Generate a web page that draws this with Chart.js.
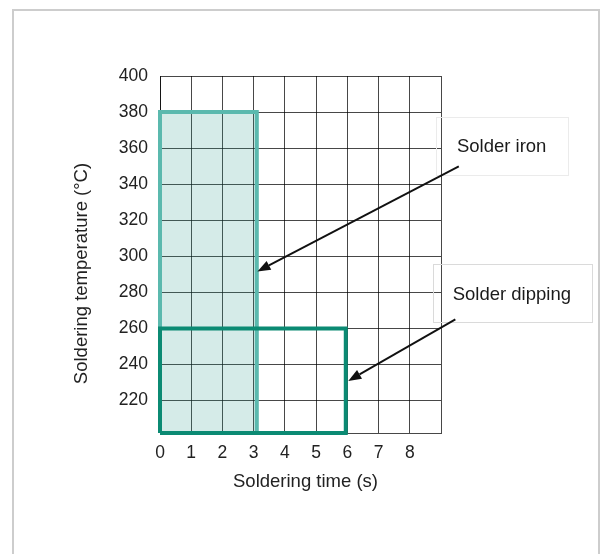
<!DOCTYPE html>
<html>
<head>
<meta charset="utf-8">
<script src="https://cdn.jsdelivr.net/npm/chart.js@4.4.0/dist/chart.umd.min.js"></script>
<style>
  body { margin: 0; background: #fff; }
  #wrap { position: relative; width: 602px; height: 554px; overflow: hidden; }
  #frame { position: absolute; left: 12px; top: 9px; width: 584px; height: 600px; border: 2px solid #cdcdcd; }
  #box { position: absolute; left: 0; top: 0; width: 602px; height: 554px; }
</style>
</head>
<body>
<div id="wrap">
  <div id="frame"></div>
  <div id="box"><canvas id="myChart"></canvas></div>
</div>
<script>
// axes
var xTicks = [0, 1, 2, 3, 4, 5, 6, 7, 8, 9];
var xLabels = ['0', '1', '2', '3', '4', '5', '6', '7', '8', ''];
var yTicks = [220, 240, 260, 280, 300, 320, 340, 360, 380, 400];
var xTitle = 'Soldering time (s)';
var yTitle = 'Soldering temperature (°C)';

// solder iron window: 0-3.1 s, up to 380 °C
var ironX = [0, 0, 3.1, 3.1];
var ironY = [202, 380, 380, 202];
// solder dipping window: 0-6 s, up to 260 °C
var dipX = [0, 0, 5.95, 5.95, 0];
var dipY = [202, 260, 260, 202, 202];

// callouts (in data units)
var noteText = ['Solder iron', 'Solder dipping'];
var noteX = [9.51, 9.375];
var noteY = [360.8, 278.8];
var noteBoxX1 = [8.84, 8.73];
var noteBoxX2 = [13.08, 13.84];
var noteBoxY1 = [377, 295.6];
var noteBoxY2 = [345.3, 263.5];
var arrowFromX = [9.57, 9.46];
var arrowFromY = [349.9, 265];
var arrowToX = [3.12, 6.03];
var arrowToY = [291.6, 230.9];

var fontFam = '"Liberation Sans", Arial, sans-serif';
var ctx = document.getElementById('myChart');

function pts(xs, ys) {
    return xs.map(function (v, i) { return { x: v, y: ys[i] }; });
}

// draws callout boxes, arrows and axis titles
var overlay = {
    id: 'overlay',
    afterDatasetsDraw: function (chart) {
        var c = chart.ctx;
        var x = chart.scales.x;
        var y = chart.scales.y;
        var area = chart.chartArea;
        c.save();

        var boxColors = ['#ebebeb', '#dadada'];
        for (let i = 0; i < noteText.length; i++) {
            let bx1 = Math.round(x.getPixelForValue(noteBoxX1[i])) + 0.5;
            let bx2 = Math.round(x.getPixelForValue(noteBoxX2[i])) + 0.5;
            let by1 = Math.round(y.getPixelForValue(noteBoxY1[i])) + 0.5;
            let by2 = Math.round(y.getPixelForValue(noteBoxY2[i])) + 0.5;
            c.strokeStyle = boxColors[i];
            c.lineWidth = 1;
            c.strokeRect(bx1, by1, bx2 - bx1, by2 - by1);

            c.fillStyle = '#1a1a1a';
            c.font = '18.5px ' + fontFam;
            c.textAlign = 'left';
            c.textBaseline = 'middle';
            c.fillText(noteText[i], x.getPixelForValue(noteX[i]), y.getPixelForValue(noteY[i]));
        }

        // arrows
        for (let i = 0; i < arrowFromX.length; i++) {
            let x0 = x.getPixelForValue(arrowFromX[i]);
            let y0 = y.getPixelForValue(arrowFromY[i]);
            let x1 = x.getPixelForValue(arrowToX[i]);
            let y1 = y.getPixelForValue(arrowToY[i]);
            let ang = Math.atan2(y1 - y0, x1 - x0);
            let headLen = 13, headW = 5;
            let bx = x1 - Math.cos(ang) * headLen;
            let by = y1 - Math.sin(ang) * headLen;
            c.strokeStyle = '#111';
            c.fillStyle = '#111';
            c.lineWidth = 1.9;
            c.beginPath();
            c.moveTo(x0, y0);
            c.lineTo(bx, by);
            c.stroke();
            c.beginPath();
            c.moveTo(x1, y1);
            c.lineTo(bx + Math.sin(ang) * headW, by - Math.cos(ang) * headW);
            c.lineTo(bx - Math.sin(ang) * headW, by + Math.cos(ang) * headW);
            c.closePath();
            c.fill();
        }

        // axis titles
        c.fillStyle = '#222';
        c.font = '18.5px ' + fontFam;
        c.textAlign = 'center';
        c.textBaseline = 'middle';
        c.fillText(xTitle, (area.left + area.right) / 2 + 5, area.bottom + 49);
        c.translate(area.left - 78, (area.top + area.bottom) / 2 + 19);
        c.rotate(-Math.PI / 2);
        c.fillText(yTitle, 0, 0);

        c.restore();
    }
};

var myChart = new Chart(ctx, {
    type: 'scatter',
    data: {
        datasets: [{
            label: 'Solder dipping',
            data: pts(dipX, dipY),
            showLine: true,
            fill: false,
            borderColor: '#0b8a73',
            borderWidth: 4,
            borderJoinStyle: 'miter',
            pointRadius: 0,
            tension: 0,
            clip: false
        },
        {
            label: 'Solder iron',
            data: pts(ironX, ironY),
            showLine: true,
            fill: 'start',
            backgroundColor: 'rgba(45, 155, 140, 0.2)',
            borderColor: '#5bb9ae',
            borderWidth: 4,
            borderJoinStyle: 'miter',
            pointRadius: 0,
            tension: 0,
            clip: false
        }]
    },
    options: {
        responsive: true,
        maintainAspectRatio: false,
        animation: false,
        layout: {
            padding: { top: 76, right: 161, left: 0, bottom: 0 }
        },
        plugins: {
            legend: { display: false },
            tooltip: { enabled: false }
        },
        scales: {
            x: {
                type: 'linear',
                min: 0,
                max: 9,
                afterBuildTicks: function (s) { s.ticks = xTicks.map(function (v) { return { value: v }; }); },
                afterFit: function (s) { s.height = 121; },
                ticks: {
                    autoSkip: false,
                    maxRotation: 0,
                    padding: 10,
                    color: '#222',
                    font: { family: fontFam, size: 17.5 },
                    callback: function (v, i) { return xLabels[i]; }
                },
                grid: { color: 'rgba(0,0,0,0.72)', drawTicks: false },
                border: { color: 'rgba(0,0,0,0.72)' }
            },
            y: {
                min: 202,
                max: 400,
                afterBuildTicks: function (s) { s.ticks = yTicks.map(function (v) { return { value: v }; }); },
                afterFit: function (s) { s.width = 160; },
                ticks: {
                    padding: 12,
                    color: '#222',
                    font: { family: fontFam, size: 17.5 }
                },
                grid: { color: 'rgba(0,0,0,0.72)', drawTicks: false },
                border: { color: 'rgba(0,0,0,0.72)' }
            }
        }
    },
    plugins: [overlay]
});
</script>
</body>
</html>
